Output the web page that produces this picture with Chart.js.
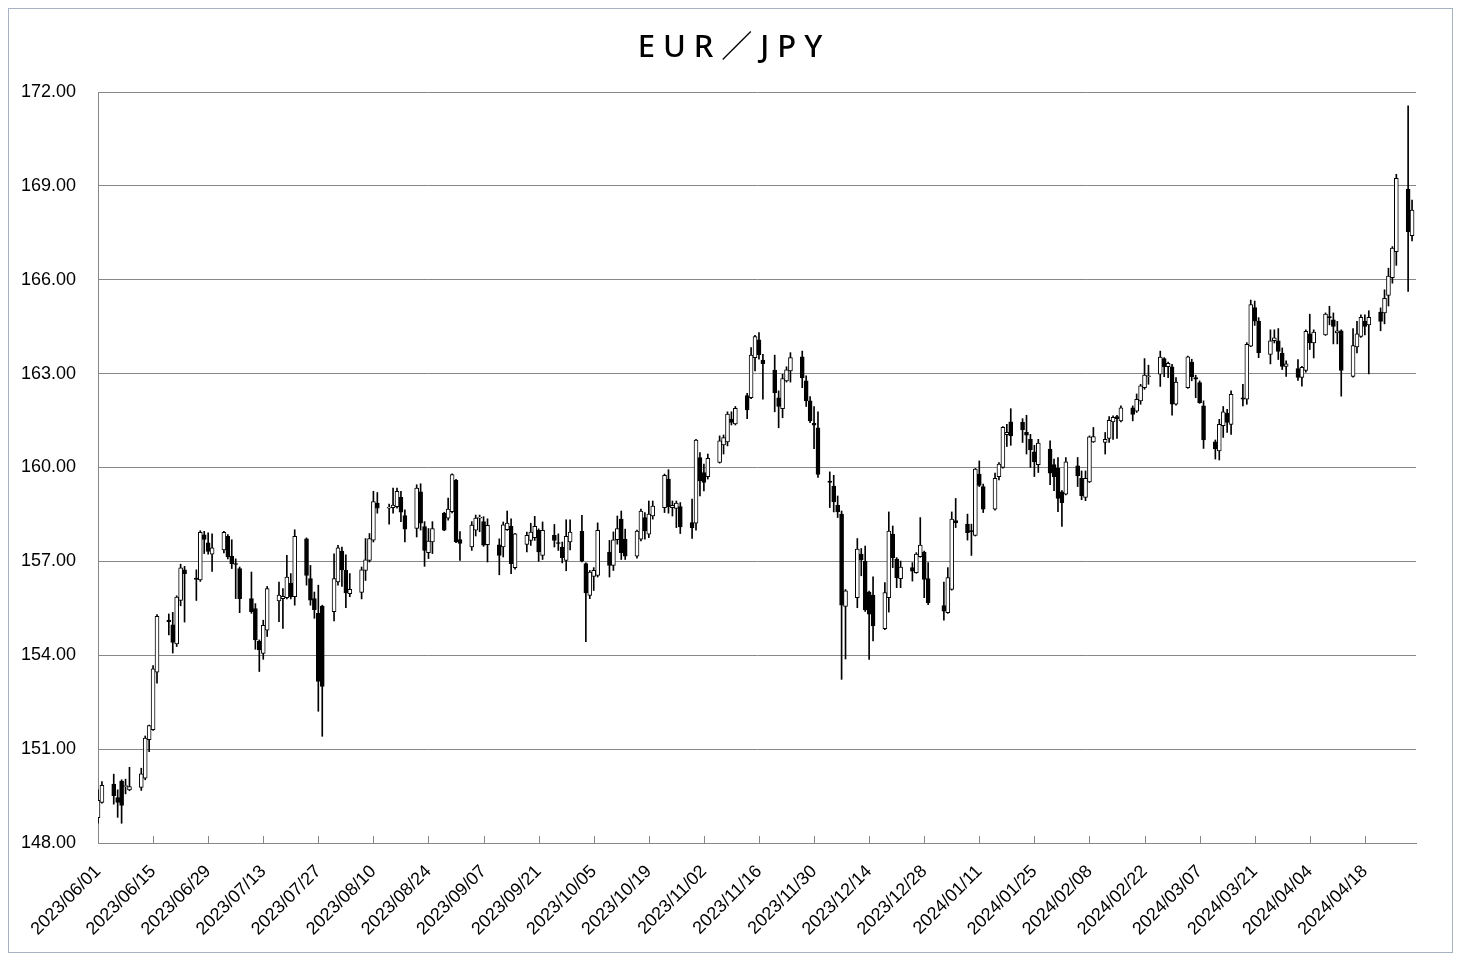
<!DOCTYPE html>
<html>
<head>
<meta charset="utf-8">
<title>EUR／JPY</title>
<script src="https://cdn.jsdelivr.net/npm/chart.js@4"></script>
<style>
  html, body { margin: 0; padding: 0; background: #fff; }
  canvas { position: absolute; left: 0; top: 0; }
  #frame { position: absolute; left: 8px; top: 8px; width: 1443px; height: 943px; border: 1px solid #a6b3c2; }
  #title { position: absolute; left: 0; top: 30px; width: 1460px; text-align: center; padding-left: 8px; box-sizing: border-box;
           font: 500 31px/31px 'Noto Sans', 'Noto Sans CJK JP', sans-serif; letter-spacing: 8px; color: #000; }
</style>
</head>
<body>
<canvas id="chart" width="1460" height="960"></canvas>
<div id="frame"></div>
<div id="title">EUR／JPY</div>
<script>
// daily candles
const dates = [
  '2023/06/01','2023/06/02','2023/06/05','2023/06/06','2023/06/07','2023/06/08','2023/06/09','2023/06/12','2023/06/13','2023/06/14','2023/06/15','2023/06/16','2023/06/19','2023/06/20','2023/06/21','2023/06/22','2023/06/23','2023/06/26','2023/06/27','2023/06/28','2023/06/29','2023/06/30',
  '2023/07/03','2023/07/04','2023/07/05','2023/07/06','2023/07/07','2023/07/10','2023/07/11','2023/07/12','2023/07/13','2023/07/14','2023/07/17','2023/07/18','2023/07/19','2023/07/20','2023/07/21','2023/07/24','2023/07/25','2023/07/26','2023/07/27','2023/07/28','2023/07/31',
  '2023/08/01','2023/08/02','2023/08/03','2023/08/04','2023/08/07','2023/08/08','2023/08/09','2023/08/10','2023/08/11','2023/08/14','2023/08/15','2023/08/16','2023/08/17','2023/08/18','2023/08/21','2023/08/22','2023/08/23','2023/08/24','2023/08/25','2023/08/28','2023/08/29','2023/08/30','2023/08/31',
  '2023/09/01','2023/09/04','2023/09/05','2023/09/06','2023/09/07','2023/09/08','2023/09/11','2023/09/12','2023/09/13','2023/09/14','2023/09/15','2023/09/18','2023/09/19','2023/09/20','2023/09/21','2023/09/22','2023/09/25','2023/09/26','2023/09/27','2023/09/28','2023/09/29',
  '2023/10/02','2023/10/03','2023/10/04','2023/10/05','2023/10/06','2023/10/09','2023/10/10','2023/10/11','2023/10/12','2023/10/13','2023/10/16','2023/10/17','2023/10/18','2023/10/19','2023/10/20','2023/10/23','2023/10/24','2023/10/25','2023/10/26','2023/10/27','2023/10/30','2023/10/31',
  '2023/11/01','2023/11/02','2023/11/03','2023/11/06','2023/11/07','2023/11/08','2023/11/09','2023/11/10','2023/11/13','2023/11/14','2023/11/15','2023/11/16','2023/11/17','2023/11/20','2023/11/21','2023/11/22','2023/11/23','2023/11/24','2023/11/27','2023/11/28','2023/11/29','2023/11/30',
  '2023/12/01','2023/12/04','2023/12/05','2023/12/06','2023/12/07','2023/12/08','2023/12/11','2023/12/12','2023/12/13','2023/12/14','2023/12/15','2023/12/18','2023/12/19','2023/12/20','2023/12/21','2023/12/22','2023/12/25','2023/12/26','2023/12/27','2023/12/28','2023/12/29',
  '2024/01/02','2024/01/03','2024/01/04','2024/01/05','2024/01/08','2024/01/09','2024/01/10','2024/01/11','2024/01/12','2024/01/15','2024/01/16','2024/01/17','2024/01/18','2024/01/19','2024/01/22','2024/01/23','2024/01/24','2024/01/25','2024/01/26','2024/01/29','2024/01/30','2024/01/31',
  '2024/02/01','2024/02/02','2024/02/05','2024/02/06','2024/02/07','2024/02/08','2024/02/09','2024/02/12','2024/02/13','2024/02/14','2024/02/15','2024/02/16','2024/02/19','2024/02/20','2024/02/21','2024/02/22','2024/02/23','2024/02/26','2024/02/27','2024/02/28','2024/02/29',
  '2024/03/01','2024/03/04','2024/03/05','2024/03/06','2024/03/07','2024/03/08','2024/03/11','2024/03/12','2024/03/13','2024/03/14','2024/03/15','2024/03/18','2024/03/19','2024/03/20','2024/03/21','2024/03/22','2024/03/25','2024/03/26','2024/03/27','2024/03/28','2024/03/29',
  '2024/04/01','2024/04/02','2024/04/03','2024/04/04','2024/04/05','2024/04/08','2024/04/09','2024/04/10','2024/04/11','2024/04/12','2024/04/15','2024/04/16','2024/04/17','2024/04/18','2024/04/19','2024/04/22','2024/04/23','2024/04/24','2024/04/25','2024/04/26','2024/04/29','2024/04/30'
];

const opens = [
  148.81,149.30,149.88,149.45,149.98,149.80,149.70,149.78,150.07,151.30,151.62,153.46,155.12,154.97,154.36,155.75,156.73,156.47,156.41,157.85,157.59,157.23,
  157.37,157.80,157.16,156.93,156.77,155.81,155.49,154.45,154.06,154.80,155.74,155.81,155.84,156.31,155.87,157.72,156.45,155.81,155.34,155.57,155.39,
  156.34,157.33,156.71,155.97,156.01,156.71,157.03,157.68,158.86,158.70,158.72,158.75,159.05,158.46,158.05,159.22,158.11,157.28,157.62,158.54,158.38,158.59,159.59,
  157.70,157.46,158.00,158.38,158.27,157.53,157.53,157.46,158.01,158.12,156.80,157.54,157.67,157.76,157.99,157.19,157.83,157.59,157.46,157.03,157.62,
  157.96,156.93,155.91,156.52,156.55,157.30,156.87,157.69,158.35,157.71,157.17,157.71,158.40,157.87,158.45,158.72,159.63,158.72,158.69,158.75,158.24,158.22,
  160.32,159.84,159.71,160.16,160.72,160.82,161.55,161.39,162.30,162.23,163.51,164.08,163.43,163.11,162.23,161.88,162.77,163.09,163.54,162.77,162.13,161.41,
  161.27,159.57,159.41,158.79,158.51,155.56,155.84,157.23,157.01,156.02,155.92,154.85,155.84,157.87,157.07,156.45,156.80,156.64,157.15,157.30,156.45,
  155.59,155.36,156.10,158.30,158.19,157.97,157.83,159.79,159.39,158.67,159.71,160.00,161.05,161.46,161.44,161.12,160.90,160.50,160.09,160.59,160.09,159.98,
  159.22,159.15,160.05,159.65,159.04,159.54,160.82,160.80,160.93,161.46,161.63,161.49,161.91,161.80,162.13,162.55,162.90,162.98,163.48,163.22,163.22,
  162.02,162.55,163.37,162.87,162.71,161.97,160.82,160.53,161.34,161.73,161.38,162.23,162.18,163.88,165.11,164.68,163.61,164.05,164.05,163.66,163.23,
  163.16,162.88,163.10,164.27,163.98,164.24,164.80,164.72,164.30,164.37,162.91,163.85,164.19,164.67,164.56,164.97,164.94,165.50,166.07,166.90,168.90,167.41
];

const highs = [
  149.70,149.96,150.20,149.70,150.02,150.04,150.42,150.39,151.42,151.77,153.67,155.30,155.32,155.37,155.90,156.91,156.84,156.73,157.98,157.96,157.91,157.88,
  157.96,157.86,157.69,157.08,156.82,156.66,155.65,154.49,155.12,156.20,156.34,156.13,157.19,156.61,158.01,157.75,156.87,156.02,156.24,155.60,157.24,
  157.51,157.46,157.21,156.61,156.82,157.73,157.89,159.24,159.20,158.83,159.34,159.34,159.24,158.65,159.45,159.48,158.27,158.05,158.27,158.57,159.02,159.80,159.62,
  157.95,158.27,158.48,158.48,158.43,158.36,157.72,158.26,158.61,158.36,157.90,157.94,158.22,158.44,158.04,158.26,158.18,157.88,157.62,158.33,158.33,
  158.47,156.95,156.71,156.80,158.23,157.67,157.94,158.45,158.61,158.03,158.00,158.67,158.56,158.93,158.93,159.79,159.93,158.93,158.93,158.88,158.99,160.90,
  160.48,160.11,160.43,161.01,161.04,161.78,161.78,161.95,162.37,163.83,164.22,164.31,163.62,163.59,162.45,162.98,163.22,163.67,163.72,162.93,162.27,161.95,
  161.78,159.86,159.75,159.09,158.61,156.10,157.73,157.41,157.49,156.05,156.51,156.32,158.58,158.13,157.12,157.01,156.96,157.28,158.40,157.33,156.96,
  156.34,156.80,158.58,159.01,158.51,158.19,159.97,160.21,159.47,159.82,160.16,161.31,161.38,161.88,161.56,161.67,161.06,160.71,160.90,160.85,160.27,160.32,
  159.26,160.32,160.32,159.89,159.89,161.01,161.28,161.12,161.63,161.65,161.67,161.97,161.97,162.35,162.66,163.48,163.27,163.72,163.51,163.37,163.30,
  162.87,163.56,163.46,162.95,162.77,162.13,160.88,161.54,161.95,161.86,162.45,162.66,163.99,165.35,165.32,164.79,164.40,164.40,164.44,163.82,163.41,
  163.45,163.23,164.40,164.90,164.40,164.94,165.15,164.94,164.67,164.40,164.44,164.67,164.88,164.88,165.01,165.10,165.68,166.37,167.06,169.37,171.56,168.55
];

const lows = [
  148.63,149.27,149.24,148.82,148.63,149.57,149.67,149.68,150.02,150.92,151.60,153.11,154.65,154.07,154.28,155.58,155.06,155.75,156.36,157.25,157.23,156.68,
  157.27,157.08,156.77,155.81,155.36,155.34,154.19,153.48,153.87,154.60,155.07,154.86,155.80,155.80,155.60,156.24,155.60,155.18,152.21,151.41,155.10,
  156.24,156.20,155.52,155.87,155.80,156.39,156.98,157.62,158.54,158.19,158.54,158.70,158.27,157.62,157.78,158.00,156.84,157.09,157.25,157.98,158.32,158.55,157.60,
  157.03,157.35,157.81,157.95,157.48,156.98,156.57,157.14,157.99,156.61,156.75,157.30,157.51,157.67,157.00,157.06,157.46,157.35,156.95,156.70,157.37,
  156.98,154.43,155.81,156.07,156.50,156.50,156.71,157.55,157.06,157.06,157.10,157.65,157.71,157.76,158.35,158.56,158.54,158.45,158.08,157.89,157.73,158.00,
  159.09,159.25,159.63,160.14,160.43,160.69,161.36,161.36,161.56,162.20,163.09,163.46,162.18,161.78,161.27,161.59,162.73,162.73,162.55,161.95,161.43,160.60,
  159.68,158.72,158.58,158.40,153.23,153.88,155.52,156.54,155.40,153.87,154.46,154.82,155.38,156.80,156.16,156.16,156.37,156.62,157.13,155.84,155.62,
  155.12,155.34,156.08,158.08,157.68,157.19,157.81,159.39,158.56,158.64,159.60,159.98,160.67,160.71,160.80,160.43,160.00,159.71,159.84,159.45,159.26,158.59,
  158.12,159.12,159.39,158.97,158.94,159.52,160.80,160.43,160.80,160.90,160.93,161.46,161.49,161.76,162.02,162.50,162.66,162.59,162.90,162.87,161.67,
  161.99,162.53,162.77,162.23,162.05,160.61,160.27,160.24,160.96,161.12,161.06,161.97,162.02,163.86,164.54,163.51,163.31,163.98,163.45,163.13,162.91,
  162.78,162.60,163.05,163.77,163.50,164.22,164.56,163.95,163.95,162.28,162.89,163.66,164.16,164.24,162.99,164.37,164.59,165.16,165.89,166.46,165.63,167.24
];

const closes = [
  149.36,149.84,149.51,149.30,149.20,149.82,149.80,150.21,151.35,151.75,153.57,155.24,155.07,154.41,155.86,156.79,156.61,156.42,157.93,157.70,157.32,157.43,
  157.93,157.14,156.93,156.90,155.81,155.39,154.49,154.17,154.96,156.13,155.92,155.88,156.50,155.87,157.80,156.55,155.76,155.46,153.16,153.00,156.45,
  157.43,156.73,155.99,156.11,156.73,157.05,157.73,158.91,158.70,158.72,158.80,159.24,158.57,158.03,159.34,158.22,157.35,157.65,158.05,158.00,158.67,159.77,157.62,
  157.57,158.16,158.38,158.40,157.52,158.15,157.19,158.17,158.22,156.93,157.88,157.83,157.94,158.12,157.30,157.99,157.67,157.57,157.12,157.80,157.94,
  157.01,155.99,156.66,156.71,157.99,156.87,157.69,158.05,157.28,157.17,157.97,158.61,157.97,158.51,158.77,159.75,158.75,158.79,158.86,158.10,158.08,160.88,
  159.57,159.52,160.29,160.85,160.96,161.71,161.44,161.89,161.84,163.59,164.18,163.60,163.32,162.39,161.95,162.84,163.12,163.51,162.87,162.13,161.49,161.35,
  159.78,159.52,158.90,158.58,155.60,156.06,157.39,157.05,155.45,155.31,154.94,156.00,157.97,157.12,156.48,156.82,156.69,157.23,157.52,156.42,155.68,
  155.41,156.48,158.35,158.24,157.92,157.95,159.95,159.43,158.67,159.65,160.11,161.28,161.12,161.01,161.20,161.03,160.56,160.18,160.78,159.82,159.71,159.01,
  158.88,160.18,159.73,159.10,159.65,160.98,160.99,160.90,161.51,161.60,161.56,161.91,161.70,162.18,162.61,162.95,162.92,163.53,163.22,163.33,162.02,
  162.73,163.54,162.90,162.82,162.07,160.88,160.59,161.38,161.78,161.44,162.34,162.18,163.94,165.21,164.68,163.67,164.05,164.14,163.71,163.23,163.31,
  162.88,163.20,164.35,163.98,164.33,164.90,164.79,164.51,164.37,163.10,163.90,164.27,164.80,164.51,164.80,164.67,165.41,166.12,167.01,169.24,167.54,168.23
];

// calendar axis: one category per day, a label every 14 days
const axisStart = new Date(2023, 5, 1);
const axisEnd = new Date(2024, 4, 1);
const labelEvery = 14;

const pad = n => String(n).padStart(2, '0');
const days = [];
for (let d = new Date(axisStart); d <= axisEnd; d.setDate(d.getDate() + 1)) {
    days.push(`${d.getFullYear()}/${pad(d.getMonth() + 1)}/${pad(d.getDate())}`);
}

const gridColor = '#878787';
const tickFont = { family: "'Liberation Sans', Arial, sans-serif", size: 18 };

const bodies = dates.map((x, i) => ({ x, y: [opens[i], closes[i]] }));
const wicks = dates.map((x, i) => ({ x, y: [lows[i], highs[i]] }));
const bodyColors = dates.map((x, i) => closes[i] >= opens[i] ? '#ffffff' : '#000000');

// small tick marks pointing up into the plot, like the original
const innerTicks = {
    id: 'innerTicks',
    afterDraw(chart) {
        const { ctx, chartArea } = chart;
        const xs = chart.scales.x;
        ctx.save();
        ctx.strokeStyle = gridColor;
        ctx.lineWidth = 1;
        xs.ticks.forEach(t => {
            if (t.value % labelEvery !== 0) return;
            const px = Math.round(xs.getPixelForValue(t.value)) + 0.5;
            ctx.beginPath();
            ctx.moveTo(px, chartArea.bottom);
            ctx.lineTo(px, chartArea.bottom - 7);
            ctx.stroke();
        });
        ctx.restore();
    }
};

new Chart(document.getElementById('chart'), {
    type: 'bar',
    data: {
        labels: days,
        datasets: [
            {
                label: 'body',
                data: bodies,
                backgroundColor: bodyColors,
                borderColor: '#000',
                borderWidth: 1,
                borderSkipped: false,
                barThickness: 4,
                minBarLength: 1,
                grouped: false,
                order: 0
            },
            {
                label: 'wick',
                data: wicks,
                backgroundColor: '#000',
                borderWidth: 0,
                barThickness: 1,
                grouped: false,
                order: 1
            }
        ]
    },
    options: {
        responsive: false,
        animation: false,
        layout: { padding: { top: 92, right: 44, bottom: 10, left: 15 } },
        plugins: {
            legend: { display: false },
            tooltip: { enabled: false }
        },
        scales: {
            x: {
                offset: false,
                grid: { display: false },
                border: { display: true, color: gridColor },
                ticks: {
                    autoSkip: false,
                    minRotation: 45,
                    maxRotation: 45,
                    padding: 10,
                    color: '#000',
                    font: tickFont,
                    callback: (v) => v % labelEvery === 0 ? days[v] : null
                },
                afterFit: s => { s.height = 107; }
            },
            y: {
                min: 148,
                max: 172,
                grid: { color: gridColor, drawTicks: false },
                border: { color: gridColor },
                ticks: {
                    stepSize: 3,
                    padding: 22,
                    color: '#000',
                    font: tickFont,
                    callback: v => v.toFixed(2)
                },
                afterFit: s => { s.width = 83; }
            }
        }
    },
    plugins: [innerTicks]
});
</script>
</body>
</html>
